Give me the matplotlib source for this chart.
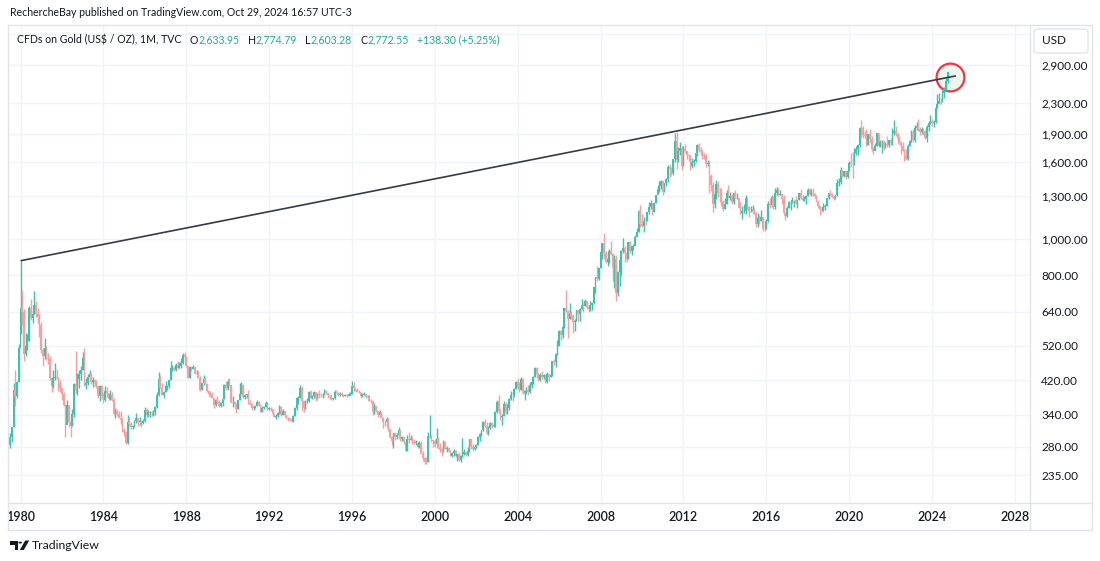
import numpy as np
import matplotlib.pyplot as plt
from matplotlib.patches import FancyBboxPatch, Polygon, Circle
from matplotlib.lines import Line2D
from matplotlib.text import Annotation
from matplotlib.ticker import FixedLocator, FuncFormatter

plt.rcParams['font.family'] = ['Lato', 'DejaVu Sans']

# Monthly gold candles, Jul 1979 .. Oct 2024 (one row per year)
first_open = 282.0
closes = [
    296, 315, 397, 382, 415, 512,                                   # 1979 (Jul-Dec)
    653, 637, 494, 518, 535, 653, 614, 631, 666, 629, 619, 590,     # 1980
    506, 489, 513, 482, 480, 426, 406, 426, 428, 427, 414, 400,     # 1981
    387, 362, 320, 361, 325, 317, 342, 411, 397, 423, 436, 448,     # 1982
    481, 408, 414, 429, 437, 416, 422, 414, 405, 382, 405, 382,     # 1983
    373, 394, 388, 375, 384, 373, 342, 348, 341, 333, 329, 309,     # 1984
    306, 287, 325, 321, 316, 317, 327, 333, 326, 326, 324, 327,     # 1985
    350, 339, 345, 345, 343, 345, 357, 384, 423, 401, 383, 391,     # 1986
    405, 406, 420, 452, 452, 448, 462, 453, 460, 468, 492, 484,     # 1987
    458, 426, 457, 449, 455, 437, 437, 427, 397, 412, 423, 410,     # 1988
    394, 387, 383, 377, 361, 373, 368, 359, 366, 375, 408, 401,     # 1989
    415, 407, 368, 368, 363, 352, 372, 387, 408, 380, 384, 386,     # 1990
    366, 363, 355, 357, 360, 368, 362, 347, 354, 357, 366, 353,     # 1991
    354, 353, 341, 336, 337, 343, 357, 340, 349, 339, 334, 333,     # 1992
    330, 327, 337, 354, 377, 378, 401, 371, 355, 369, 370, 391,     # 1993
    378, 381, 391, 376, 387, 385, 384, 385, 394, 389, 383, 383,     # 1994
    375, 376, 392, 389, 385, 387, 383, 382, 384, 382, 387, 387,     # 1995
    405, 400, 396, 391, 390, 382, 385, 386, 379, 379, 371, 369,     # 1996
    345, 358, 348, 340, 345, 334, 326, 325, 332, 311, 296, 290,     # 1997
    304, 297, 301, 310, 293, 296, 288, 273, 294, 292, 294, 288,     # 1998
    287, 287, 279, 286, 268, 261, 255, 254, 299, 299, 291, 290,     # 1999
    284, 293, 278, 275, 273, 288, 276, 278, 273, 264, 269, 273,     # 2000
    265, 267, 258, 264, 267, 270, 266, 273, 293, 279, 275, 279,     # 2001
    282, 297, 302, 309, 326, 318, 304, 313, 324, 317, 319, 347,     # 2002
    368, 348, 335, 337, 364, 346, 354, 375, 385, 384, 398, 417,     # 2003
    400, 396, 424, 388, 394, 395, 391, 408, 416, 428, 453, 438,     # 2004
    422, 434, 428, 435, 417, 437, 429, 433, 473, 470, 495, 517,     # 2005
    569, 556, 583, 654, 643, 613, 633, 624, 599, 604, 646, 632,     # 2006
    650, 665, 663, 683, 659, 650, 665, 673, 743, 789, 783, 834,     # 2007
    923, 972, 917, 865, 886, 928, 912, 834, 884, 718, 815, 880,     # 2008
    928, 943, 916, 884, 979, 927, 954, 955, 1008, 1040, 1182, 1096, # 2009
    1081, 1118, 1113, 1179, 1213, 1244, 1181, 1247, 1307, 1357, 1386, 1421,  # 2010
    1332, 1410, 1439, 1556, 1536, 1500, 1628, 1826, 1620, 1714, 1746, 1565,  # 2011
    1737, 1710, 1669, 1664, 1561, 1604, 1614, 1687, 1773, 1719, 1712, 1675,  # 2012
    1664, 1578, 1595, 1472, 1393, 1234, 1312, 1395, 1327, 1323, 1250, 1202,  # 2013
    1240, 1326, 1284, 1296, 1250, 1327, 1282, 1287, 1210, 1171, 1182, 1184,  # 2014
    1283, 1212, 1183, 1183, 1190, 1172, 1095, 1134, 1115, 1142, 1065, 1061,  # 2015
    1118, 1238, 1233, 1293, 1215, 1321, 1351, 1309, 1316, 1277, 1173, 1152,  # 2016
    1211, 1249, 1249, 1268, 1268, 1242, 1269, 1322, 1280, 1271, 1275, 1303,  # 2017
    1345, 1318, 1325, 1316, 1299, 1253, 1224, 1201, 1192, 1215, 1223, 1282,  # 2018
    1321, 1313, 1292, 1284, 1305, 1409, 1414, 1520, 1472, 1513, 1464, 1517,  # 2019
    1589, 1585, 1577, 1687, 1730, 1781, 1975, 1968, 1886, 1879, 1777, 1898,  # 2020
    1848, 1734, 1708, 1769, 1907, 1770, 1814, 1814, 1743, 1783, 1775, 1829,  # 2021
    1797, 1909, 1937, 1897, 1838, 1807, 1766, 1711, 1660, 1633, 1768, 1824,  # 2022
    1928, 1827, 1969, 1990, 1963, 1919, 1965, 1940, 1849, 1983, 2036, 2063,  # 2023
    2039, 2044, 2230, 2286, 2327, 2326, 2447, 2503, 2633.95, 2772.55,        # 2024
]
highs = [
    304, 316, 412, 447, 418, 524,
    873, 730, 649, 562, 557, 663, 690, 648, 725, 681, 655, 632,
    600, 511, 544, 520, 497, 488, 428, 448, 466, 449, 428, 420,
    400, 390, 363, 373, 360, 329, 352, 414, 503, 440, 447, 458,
    501, 511, 425, 437, 447, 440, 428, 424, 420, 403, 407, 407,
    388, 406, 403, 389, 395, 392, 378, 355, 352, 348, 349, 334,
    313, 308, 340, 336, 326, 320, 330, 344, 331, 336, 329, 331,
    357, 355, 350, 349, 348, 350, 360, 390, 442, 433, 414, 394,
    418, 409, 422, 472, 462, 459, 467, 473, 469, 481, 497, 500,
    487, 459, 457, 458, 462, 455, 447, 444, 432, 414, 433, 430,
    412, 394, 393, 392, 378, 375, 381, 373, 368, 375, 410, 418,
    423, 426, 409, 381, 371, 365, 372, 412, 415, 410, 386, 387,
    397, 372, 365, 360, 361, 372, 370, 363, 358, 360, 369, 367,
    357, 357, 353, 342, 341, 345, 362, 358, 352, 348, 340, 336,
    332, 331, 340, 356, 380, 381, 409, 406, 367, 372, 376, 393,
    396, 385, 393, 390, 389, 395, 389, 388, 398, 397, 389, 385,
    384, 378, 396, 396, 392, 391, 390, 387, 387, 386, 389, 391,
    418, 416, 404, 400, 395, 392, 388, 391, 387, 385, 385, 374,
    370, 365, 358, 348, 350, 346, 335, 330, 335, 333, 312, 298,
    305, 307, 305, 316, 310, 298, 297, 289, 301, 307, 301, 297,
    293, 292, 289, 290, 290, 272, 263, 262, 306, 339, 301, 292,
    293, 314, 296, 286, 277, 292, 289, 281, 278, 274, 270, 275,
    274, 268, 270, 266, 295, 275, 270, 280, 294, 291, 285, 280,
    285, 299, 305, 310, 328, 331, 325, 317, 325, 325, 322, 349,
    372, 383, 352, 342, 371, 368, 363, 376, 393, 392, 400, 418,
    427, 417, 428, 427, 397, 403, 407, 416, 421, 432, 456, 456,
    440, 439, 444, 437, 434, 442, 434, 445, 474, 480, 496, 539,
    573, 572, 587, 653, 732, 647, 675, 642, 630, 611, 648, 644,
    653, 690, 674, 692, 684, 661, 681, 676, 744, 793, 845, 836,
    928, 975, 1033, 928, 917, 941, 988, 914, 905, 908, 823, 885,
    931, 1006, 958, 916, 981, 989, 959, 967, 1025, 1070, 1195, 1227,
    1161, 1141, 1128, 1181, 1249, 1265, 1211, 1250, 1307, 1388, 1424, 1431,
    1424, 1411, 1447, 1575, 1577, 1553, 1632, 1913, 1921, 1760, 1804, 1764,
    1764, 1791, 1713, 1677, 1667, 1640, 1631, 1692, 1790, 1796, 1755, 1723,
    1693, 1684, 1617, 1608, 1487, 1420, 1348, 1434, 1424, 1361, 1362, 1267,
    1280, 1345, 1392, 1331, 1315, 1326, 1345, 1323, 1287, 1255, 1221, 1238,
    1307, 1293, 1224, 1224, 1232, 1204, 1175, 1170, 1157, 1191, 1142, 1088,
    1128, 1263, 1283, 1304, 1303, 1362, 1375, 1367, 1352, 1317, 1306, 1175,
    1220, 1264, 1261, 1295, 1270, 1296, 1270, 1326, 1357, 1306, 1299, 1306,
    1366, 1361, 1356, 1366, 1326, 1309, 1266, 1220, 1214, 1243, 1237, 1284,
    1326, 1347, 1324, 1310, 1305, 1439, 1453, 1555, 1524, 1519, 1516, 1524,
    1611, 1689, 1704, 1747, 1765, 1789, 1984, 2075, 1992, 1933, 1965, 1900,
    1959, 1872, 1755, 1798, 1913, 1917, 1832, 1834, 1834, 1814, 1877, 1831,
    1853, 1974, 2070, 1998, 1910, 1879, 1789, 1807, 1735, 1730, 1786, 1833,
    1949, 1959, 2009, 2048, 2079, 1983, 1987, 1949, 1953, 2010, 2052, 2135,
    2088, 2065, 2236, 2431, 2450, 2369, 2484, 2531, 2685, 2774.79,
]
lows = [
    277, 288, 315, 360, 378, 415,
    559, 590, 474, 488, 506, 534, 609, 598, 629, 618, 596, 547,
    496, 460, 480, 476, 465, 420, 391, 402, 420, 424, 393, 391,
    372, 360, 297, 326, 315, 297, 317, 335, 388, 385, 400, 420,
    448, 405, 398, 408, 424, 410, 404, 405, 402, 377, 371, 375,
    365, 370, 380, 372, 372, 370, 342, 333, 338, 333, 321, 306,
    299, 284, 285, 315, 311, 312, 316, 323, 317, 319, 316, 322,
    326, 336, 335, 336, 338, 338, 340, 354, 381, 400, 383, 378,
    392, 397, 401, 420, 444, 444, 445, 450, 453, 452, 465, 480,
    455, 426, 426, 446, 449, 436, 428, 427, 393, 397, 409, 410,
    392, 382, 380, 377, 354, 359, 366, 356, 356, 358, 375, 397,
    397, 405, 365, 357, 358, 344, 352, 372, 387, 377, 374, 376,
    364, 361, 351, 351, 354, 360, 359, 345, 347, 353, 356, 351,
    350, 349, 338, 335, 332, 335, 342, 338, 340, 336, 332, 328,
    327, 326, 325, 337, 350, 364, 377, 349, 345, 353, 365, 367,
    376, 375, 378, 369, 374, 377, 380, 378, 384, 386, 377, 375,
    372, 372, 375, 388, 382, 382, 381, 379, 381, 380, 382, 385,
    387, 394, 393, 390, 388, 379, 380, 384, 378, 377, 370, 366,
    340, 341, 346, 336, 338, 334, 314, 318, 320, 308, 295, 283,
    277, 291, 293, 299, 290, 289, 285, 272, 273, 287, 291, 285,
    284, 283, 278, 278, 268, 257, 252, 251, 254, 295, 288, 280,
    280, 286, 276, 271, 264, 270, 276, 271, 270, 264, 263, 264,
    263, 256, 257, 255, 263, 266, 265, 264, 271, 276, 272, 274,
    277, 283, 290, 298, 308, 315, 302, 300, 312, 313, 315, 316,
    344, 343, 330, 319, 337, 341, 342, 350, 372, 370, 379, 399,
    398, 392, 396, 386, 372, 386, 383, 389, 401, 410, 428, 426,
    418, 418, 424, 423, 414, 413, 418, 429, 432, 461, 457, 490,
    517, 538, 543, 580, 638, 543, 611, 612, 560, 567, 604, 606,
    606, 647, 637, 663, 651, 640, 642, 648, 670, 719, 772, 779,
    834, 886, 886, 860, 848, 862, 904, 774, 740, 681, 705, 747,
    801, 917, 865, 866, 883, 916, 905, 935, 990, 1020, 1044, 1075,
    1074, 1044, 1087, 1113, 1165, 1200, 1156, 1176, 1242, 1313, 1329, 1360,
    1308, 1329, 1380, 1420, 1462, 1478, 1480, 1603, 1534, 1604, 1675, 1523,
    1563, 1689, 1627, 1612, 1527, 1547, 1566, 1597, 1662, 1703, 1672, 1635,
    1626, 1555, 1562, 1321, 1338, 1180, 1207, 1274, 1294, 1251, 1226, 1182,
    1202, 1239, 1284, 1268, 1240, 1241, 1283, 1273, 1205, 1161, 1132, 1170,
    1167, 1198, 1142, 1175, 1170, 1162, 1077, 1077, 1098, 1112, 1052, 1046,
    1062, 1111, 1208, 1212, 1200, 1200, 1310, 1303, 1305, 1241, 1172, 1123,
    1146, 1206, 1194, 1243, 1214, 1236, 1204, 1266, 1273, 1260, 1264, 1236,
    1302, 1307, 1303, 1301, 1282, 1250, 1211, 1160, 1180, 1182, 1196, 1221,
    1276, 1311, 1281, 1266, 1274, 1303, 1382, 1400, 1459, 1459, 1445, 1454,
    1517, 1548, 1451, 1568, 1671, 1671, 1757, 1863, 1849, 1860, 1764, 1775,
    1803, 1717, 1677, 1720, 1765, 1751, 1750, 1688, 1721, 1746, 1759, 1753,
    1780, 1781, 1890, 1872, 1787, 1805, 1681, 1710, 1615, 1617, 1616, 1765,
    1805, 1804, 1809, 1950, 1932, 1893, 1903, 1884, 1846, 1810, 1931, 2017,
    2001, 1985, 2038, 2228, 2277, 2286, 2319, 2364, 2472, 2603.28,
]

# months counted from Jan 1980
first_month = -6
year_ticks = [1980, 1984, 1988, 1992, 1996, 2000, 2004, 2008, 2012, 2016, 2020, 2024, 2028]
price_ticks = [235, 280, 340, 420, 520, 640, 800, 1000, 1300, 1600, 1900, 2300, 2900, 3500]

# trend line from the 1980 top through the 2011 top, and the marked last bar
trend_months = [0, 541.8]
trend_prices = [874, 2714]
mark_month, mark_price = 538.3, 2699

# legend pieces
ohlc_labels = ['O', 'H', 'L', 'C']
ohlc_values = ['2,633.95', '2,774.79', '2,603.28', '2,772.55']
change_text = '+138.30 (+5.25%)'

UP = '#3ec1ad'
DOWN = '#f7a09e'
TEXT = '#131722'
BORDER = '#e0e3eb'
GRID = '#f0f3fa'
TEAL = '#22ab94'
FS = 7.6

W, H = 1100, 561
fig = plt.figure(figsize=(W / 100, H / 100), dpi=100)

def fx(px):
    return px / W

def fy(py):
    return 1 - py / H

ax = fig.add_axes([fx(8), fy(503), fx(1030) - fx(8), fy(25) - fy(503)])
ax.set_yscale('log')

c = np.array(closes, dtype=float)
h = np.array(highs, dtype=float)
l = np.array(lows, dtype=float)
o = np.concatenate([[first_open], c[:-1]])
x = np.arange(len(c)) + first_month
col = np.where(c >= o, UP, DOWN)

ax.vlines(x, l, h, colors=col, lw=1.0, zorder=3)
ax.bar(x, np.maximum(np.abs(c - o), 0.5), bottom=np.minimum(o, c), width=1.0,
       color=col, linewidth=0, zorder=3)

ax.plot(trend_months, trend_prices, color='#363a45', lw=1.2, zorder=4, solid_capstyle='butt')
ax.plot([mark_month], [mark_price], marker='o', markersize=20, markerfacecolor=(0.3, 0.69, 0.31, 0.1),
        markeredgecolor='#f23645', markeredgewidth=1.6, zorder=2, linestyle='none')

ax.set_xlim(-7.24, 584.7)
ax.set_ylim(198.1, 3706)

ax.xaxis.set_major_locator(FixedLocator([(yy - 1980) * 12 for yy in year_ticks]))
ax.xaxis.set_major_formatter(FuncFormatter(lambda v, p: str(int(round(1980 + v / 12)))))
ax.yaxis.set_major_locator(FixedLocator(price_ticks))
ax.yaxis.set_minor_locator(FixedLocator([]))
# the 3,500 label sits under the USD button
ax.yaxis.set_major_formatter(FuncFormatter(lambda v, p: '' if v > 3000 else f'{v:,.2f}'))
ax.yaxis.tick_right()
ax.tick_params(axis='y', length=0, pad=8, labelsize=8.5, labelcolor=TEXT)
ax.tick_params(axis='x', length=0, pad=6, labelsize=9, labelcolor=TEXT)
for t in ax.get_xticklabels():
    t.set_fontweight('semibold')
ax.grid(True, color=GRID, lw=1, zorder=0)
for s in ax.spines.values():
    s.set_visible(False)

# frame of the TradingView pane
for (x0, y0, x1, y1) in [(8, 25, 1092, 25), (8, 503, 1092, 503), (8, 530, 1092, 530),
                         (8, 25, 8, 530), (1030, 25, 1030, 530), (1092, 25, 1092, 530)]:
    fig.add_artist(Line2D([fx(x0), fx(x1)], [fy(y0), fy(y1)], color=BORDER, lw=1))

# header and legend
fig.text(fx(10), fy(12), 'RechercheBay published on TradingView.com, Oct 29, 2024 16:57 UTC-3',
         fontsize=FS, color=TEXT, va='center')
anchor = fig.text(fx(17), fy(40), 'CFDs on Gold (US$ / OZ), 1M, TVC', fontsize=FS, color=TEXT, va='center')

segments = []
for lab, val in zip(ohlc_labels, ohlc_values):
    segments.append((lab, TEXT, 6))
    segments.append((val, TEAL, 0))
segments.append((change_text, TEAL, 6))
for txt, colr, gap in segments:
    anchor = fig.add_artist(Annotation(txt, xy=(1, 0.5), xycoords=anchor, xytext=(gap, 0),
                                       textcoords='offset points', fontsize=FS, color=colr,
                                       va='center', ha='left'))

# USD button
fig.add_artist(FancyBboxPatch((fx(1034), fy(53)), fx(1088) - fx(1034), fy(29) - fy(53),
                              boxstyle='round,pad=0,rounding_size=0.004',
                              facecolor='white', edgecolor=BORDER, lw=1, transform=fig.transFigure))
fig.text(fx(1042), fy(41), 'USD', fontsize=8.5, color=TEXT, va='center')

# TradingView logo
def poly(pts, **kw):
    fig.add_artist(Polygon([(fx(a), fy(b)) for a, b in pts], closed=True, transform=fig.transFigure, **kw))

poly([(10, 540.5), (18, 540.5), (18, 550), (14.5, 550), (14.5, 544.5), (10, 544.5)], color=TEXT, lw=0)
fig.add_artist(Circle((fx(20.2), fy(542.6)), 1.8 / W, transform=fig.transFigure, color=TEXT, lw=0))
poly([(19.8, 550), (23.8, 550), (29.2, 540.5), (25.2, 540.5)], color=TEXT, lw=0)
fig.text(fx(32), fy(545.5), 'TradingView', fontsize=8.8, color=TEXT, va='center')

fig.savefig('out.png', dpi=100, facecolor='white')
